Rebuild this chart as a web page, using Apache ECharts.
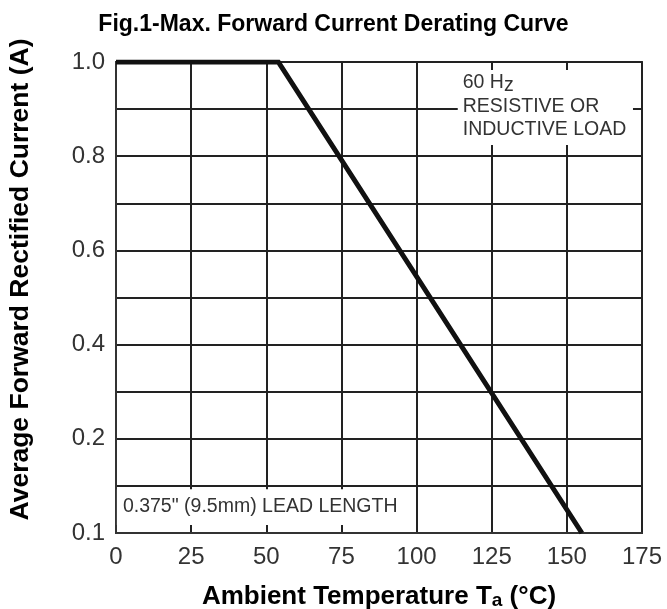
<!DOCTYPE html>
<html>
<head>
<meta charset="utf-8">
<script src="https://cdn.jsdelivr.net/npm/echarts@6/dist/echarts.min.js"></script>
<style>
html,body{margin:0;padding:0;background:#fff;}
#chart{width:667px;height:609px;}
</style>
</head>
<body>
<div id="chart"></div>
<script>
// Data
const xTicks = [0, 25, 50, 75, 100, 125, 150, 175];
const yTickLabels = { '0': '0.1', '0.2': '0.2', '0.4': '0.4', '0.6': '0.6', '0.8': '0.8', '1': '1.0' };
const curveTemp = [0, 54, 155];
const curveCurrent = [1.0, 1.0, 0.0];
const noteTop = ['60 H{z|z}', 'RESISTIVE OR', 'INDUCTIVE LOAD'];
const noteBottom = ['0.375" (9.5mm) LEAD LENGTH'];

const FONT = "'Liberation Sans', Arial, Helvetica, sans-serif";
const chart = echarts.init(document.getElementById('chart'), null, { renderer: 'canvas' });

const option = {
  animation: false,
  backgroundColor: '#fff',
  title: {
    text: 'Fig.1-Max. Forward Current Derating Curve',
    left: 'center',
    top: 8,
    textStyle: { fontFamily: FONT, fontSize: 23, fontWeight: 'bold', color: '#000' }
  },
  grid: {
    left: 116, right: 25, top: 62, bottom: 76,
    containLabel: false,
    outerBoundsMode: 'none',
    show: true, borderColor: '#333', borderWidth: 2, backgroundColor: '#fff'
  },
  xAxis: {
    type: 'value',
    min: 0, max: 175, interval: 25,
    name: 'Ambient Temperature T{sub|a} (°C)',
    nameLocation: 'middle',
    nameGap: 51,
    nameTextStyle: {
      fontFamily: FONT, fontSize: 26, fontWeight: 'bold', color: '#000',
      rich: { sub: { fontFamily: FONT, fontSize: 19, fontWeight: 'bold', color: '#000', verticalAlign: 'bottom', padding: [7, 0, 0, 0] } }
    },
    axisLine: { show: true, lineStyle: { color: '#333', width: 2 } },
    axisTick: { show: false },
    axisLabel: {
      fontFamily: FONT, fontSize: 24, color: '#333', margin: 12,
      formatter: v => (xTicks.indexOf(v) >= 0 ? String(v) : '')
    },
    splitLine: { show: true, lineStyle: { color: '#222', width: 2 } }
  },
  yAxis: {
    type: 'value',
    min: 0, max: 1, interval: 0.1,
    name: 'Average Forward Rectified Current (A)',
    nameLocation: 'middle',
    nameRotate: 90,
    nameGap: 82,
    nameTextStyle: { fontFamily: FONT, fontSize: 26.5, fontWeight: 'bold', color: '#000', padding: [0, 0, 0, 36] },
    axisLine: { show: true, lineStyle: { color: '#333', width: 2 } },
    axisTick: { show: false },
    axisLabel: {
      fontFamily: FONT, fontSize: 24, color: '#333', margin: 11,
      formatter: v => {
        const k = String(Math.round(v * 10) / 10);
        return yTickLabels[k] !== undefined ? yTickLabels[k] : '';
      }
    },
    splitLine: { show: true, lineStyle: { color: '#222', width: 2 } }
  },
  series: [{
    type: 'line',
    data: curveTemp.map((t, i) => [t, curveCurrent[i]]),
    symbol: 'none',
    lineStyle: { color: '#111', width: 5, join: 'miter' },
    z: 5
  }]
};
chart.setOption(option);

// Annotation boxes placed in data coordinates
function box(x0, y0, x1, y1) {
  const p0 = chart.convertToPixel({ gridIndex: 0 }, [x0, y0]);
  const p1 = chart.convertToPixel({ gridIndex: 0 }, [x1, y1]);
  return { x: Math.min(p0[0], p1[0]), y: Math.min(p0[1], p1[1]), w: Math.abs(p1[0] - p0[0]), h: Math.abs(p1[1] - p0[1]) };
}
const bTop = box(113.7, 0.983, 172, 0.824);
const bBot = box(0.3, 0.093, 96.3, 0.017);
const noteStyle = { fontFamily: FONT, fontSize: 19.5, fill: '#333' };
chart.setOption({
  graphic: [
    { type: 'rect', shape: { x: bTop.x, y: bTop.y, width: bTop.w, height: bTop.h }, style: { fill: '#fff' }, z: 3 },
    { type: 'text', x: bTop.x + 5, y: bTop.y + 1, z: 4,
      style: Object.assign({}, noteStyle, {
        text: noteTop.join('\n'), lineHeight: 23.5,
        rich: { z: { fontFamily: FONT, fontSize: 19.5, fill: '#333', padding: [6, 0, 0, 0] } }
      }) },
    { type: 'rect', shape: { x: bBot.x, y: bBot.y, width: bBot.w, height: bBot.h }, style: { fill: '#fff' }, z: 3 },
    { type: 'text', x: bBot.x + 6, y: bBot.y + bBot.h / 2, z: 4,
      style: Object.assign({}, noteStyle, { text: noteBottom[0], verticalAlign: 'middle' }) }
  ]
});
</script>
</body>
</html>
